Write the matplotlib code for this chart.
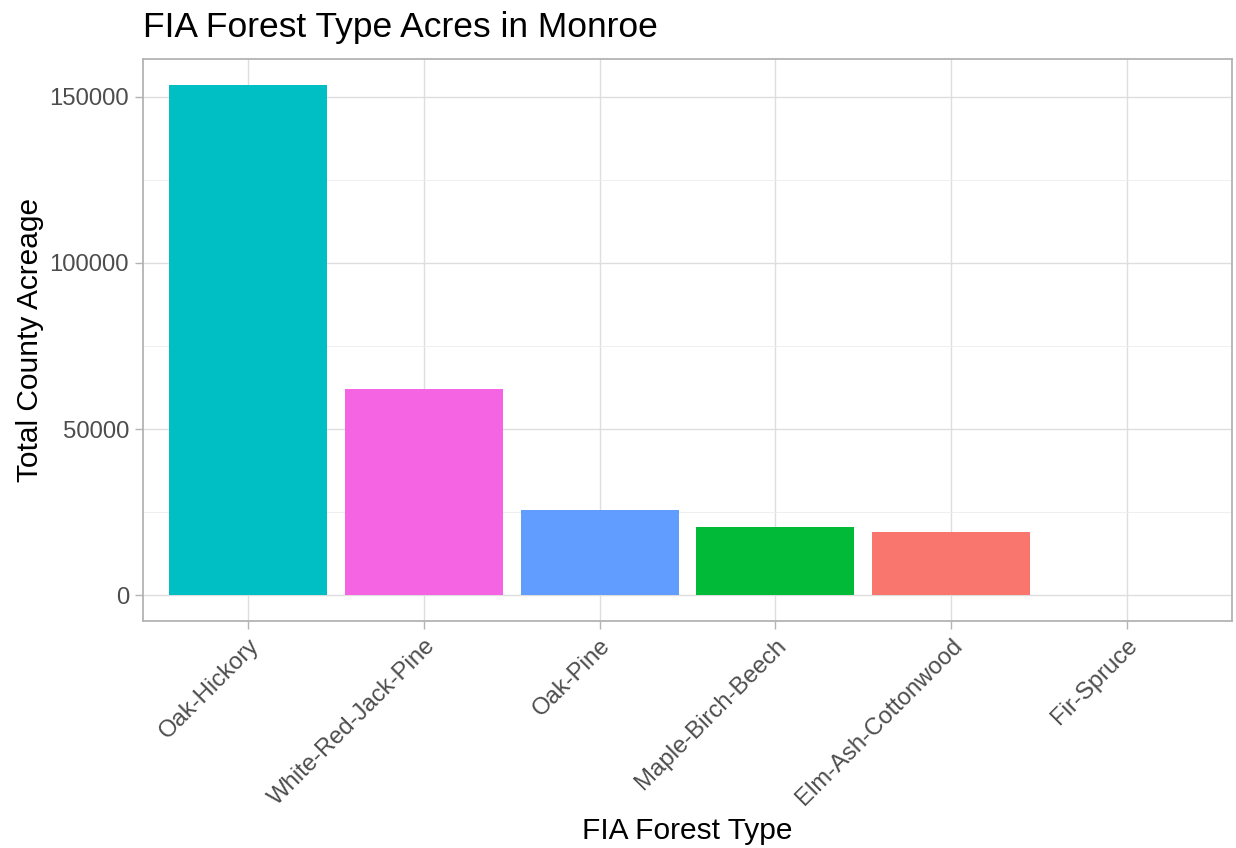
import matplotlib
matplotlib.use("Agg")
import matplotlib.pyplot as plt
from matplotlib.ticker import MultipleLocator

plt.rcParams['font.family'] = ['Liberation Sans', 'DejaVu Sans']

# data
forest_types = ["Oak-Hickory", "White-Red-Jack-Pine", "Oak-Pine",
                "Maple-Birch-Beech", "Elm-Ash-Cottonwood", "Fir-Spruce"]
acres = [153600, 62000, 25800, 20700, 19200, 0]
colors = ["#00BFC4", "#F564E3", "#619CFF", "#00BA38", "#F8766D", "#B79F00"]

fig = plt.figure(figsize=(12.36, 8.48), dpi=100)
ax = fig.add_axes([143/1236, 1 - 621/848, (1232-143)/1236, (621-59)/848])

x = range(len(forest_types))
ax.bar(x, acres, width=0.9, color=colors, zorder=3)

ymax = max(acres)
pad = ymax * 0.05
ax.set_ylim(-pad, ymax + pad)
ax.set_xlim(-0.6, len(forest_types) - 0.4)

ax.yaxis.set_major_locator(MultipleLocator(50000))
ax.yaxis.set_minor_locator(MultipleLocator(25000))
ax.set_xticks(list(x))
ax.set_xticklabels(forest_types, rotation=45, ha="right", rotation_mode="anchor")

ax.grid(which="major", color="#DEDEDE", linewidth=1.0, zorder=0)
ax.grid(which="minor", axis="y", color="#EDEDED", linewidth=0.6, zorder=0)
for s in ax.spines.values():
    s.set_color("#B3B3B3")
    s.set_linewidth(1.3)
ax.tick_params(which="major", color="#B3B3B3", length=6, width=1.0,
               labelcolor="#4D4D4D", labelsize=17.2, pad=4)
ax.tick_params(which="minor", length=0)

ax.set_xlabel("FIA Forest Type", fontsize=21.5, va="center")
ax.xaxis.set_label_coords(0.5, (621 - 831) / 562)
ax.set_ylabel("Total County Acreage", fontsize=21.5, labelpad=4)
ax.set_title("FIA Forest Type Acres in Monroe", fontsize=25.5, loc="left", pad=16)

fig.savefig("out.png", dpi=100)
